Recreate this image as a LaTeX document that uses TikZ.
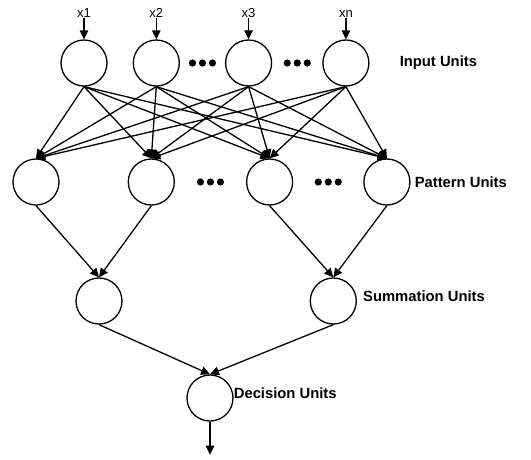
\documentclass[tikz,border=0pt]{standalone}
\usepackage{fontspec}
\setmainfont{Liberation Sans}
\usepackage{tikz}
\usetikzlibrary{positioning, arrows.meta, calc}

\begin{document}
\begin{tikzpicture}[
  x=1pt, y=-1pt,
  node distance=20pt and 40pt,
  unit/.style={circle, draw, line width=1.3pt, minimum size=46pt, inner sep=0pt},
  layer/.style={font=\bfseries\fontsize{14.8}{17}\selectfont, inner sep=0pt},
  input/.style={font=\fontsize{13}{14}\selectfont, inner sep=1pt},
  arrow/.style={-{Triangle[length=9pt, width=8.5pt]}, line width=1.3pt}
]
\useasboundingbox (0,0) rectangle (531,459);

% Input units
\node[unit] (in1) at (84,63) {};
\node[unit, right=25pt of in1] (in2) {};
\node[unit, right=45pt of in2] (in3) {};
\node[unit, right=50pt of in3] (in4) {};

% Inputs
\node[input, above=21pt of in1] (x1) {x1};
\node[input, above=21pt of in2] (x2) {x2};
\node[input, above=21pt of in3] (x3) {x3};
\node[input, above=21pt of in4] (xn) {xn};

% Pattern units
\node[unit] (p1) at (36,182) {};
\node[unit, right=68pt of p1] (p2) {};
\node[unit, right=71pt of p2] (p3) {};
\node[unit, right=70pt of p3] (p4) {};

% Summation units
\node[unit] (s1) at (99,301) {};
\node[unit, right=187pt of s1] (s2) {};

% Decision unit
\node[unit] (d) at (210,398) {};
\coordinate[below=33pt of d] (out);

% Layer names
\node[layer, right=30pt of in4] (inlabel) {Input Units};
\node[layer, right=4pt of p4] (plabel) {Pattern Units};
\node[layer, right=6pt of s2, yshift=5pt] (slabel) {Summation Units};
\node[layer, right=0pt of d, yshift=5pt] (dlabel) {Decision Units};

% Dots between units
\coordinate (dotsA) at ($(in2)!0.5!(in3)$);
\coordinate (dotsB) at ($(in3)!0.5!(in4)$);
\coordinate (dotsC) at ($(p2)!0.5!(p3)$);
\coordinate (dotsD) at ($(p3)!0.5!(p4)$);
\fill ([xshift=-10pt]dotsA) circle (3.6pt) (dotsA) circle (3.6pt) ([xshift=10pt]dotsA) circle (3.6pt);
\fill ([xshift=-10pt]dotsB) circle (3.6pt) (dotsB) circle (3.6pt) ([xshift=10pt]dotsB) circle (3.6pt);
\fill ([xshift=-10pt]dotsC) circle (3.6pt) (dotsC) circle (3.6pt) ([xshift=10pt]dotsC) circle (3.6pt);
\fill ([xshift=-10pt]dotsD) circle (3.6pt) (dotsD) circle (3.6pt) ([xshift=10pt]dotsD) circle (3.6pt);

% Arrows: inputs -> input units
\draw[arrow] (x1) -- (in1);
\draw[arrow] (x2) -- (in2);
\draw[arrow] (x3) -- (in3);
\draw[arrow] (xn) -- (in4);

% Arrows: input units -> pattern units
\draw[arrow] (in1.south) -- (p1.north);
\draw[arrow] (in1.south) -- (p2.north);
\draw[arrow] (in1.south) -- (p3.north);
\draw[arrow] (in1.south) -- (p4.north);
\draw[arrow] (in2.south) -- (p1.north);
\draw[arrow] (in2.south) -- (p2.north);
\draw[arrow] (in2.south) -- (p3.north);
\draw[arrow] (in2.south) -- (p4.north);
\draw[arrow] (in3.south) -- (p1.north);
\draw[arrow] (in3.south) -- (p2.north);
\draw[arrow] (in3.south) -- (p3.north);
\draw[arrow] (in3.south) -- (p4.north);
\draw[arrow] (in4.south) -- (p1.north);
\draw[arrow] (in4.south) -- (p2.north);
\draw[arrow] (in4.south) -- (p3.north);
\draw[arrow] (in4.south) -- (p4.north);

% Arrows: pattern units -> summation units
\draw[arrow] (p1.south) -- (s1.north);
\draw[arrow] (p2.south) -- (s1.north);
\draw[arrow] (p3.south) -- (s2.north);
\draw[arrow] (p4.south) -- (s2.north);

% Arrows: summation units -> decision unit
\draw[arrow] (s1.south) -- (d.north);
\draw[arrow] (s2.south) -- (d.north);
\draw[arrow] (d.south) -- (out);

\end{tikzpicture}
\end{document}
